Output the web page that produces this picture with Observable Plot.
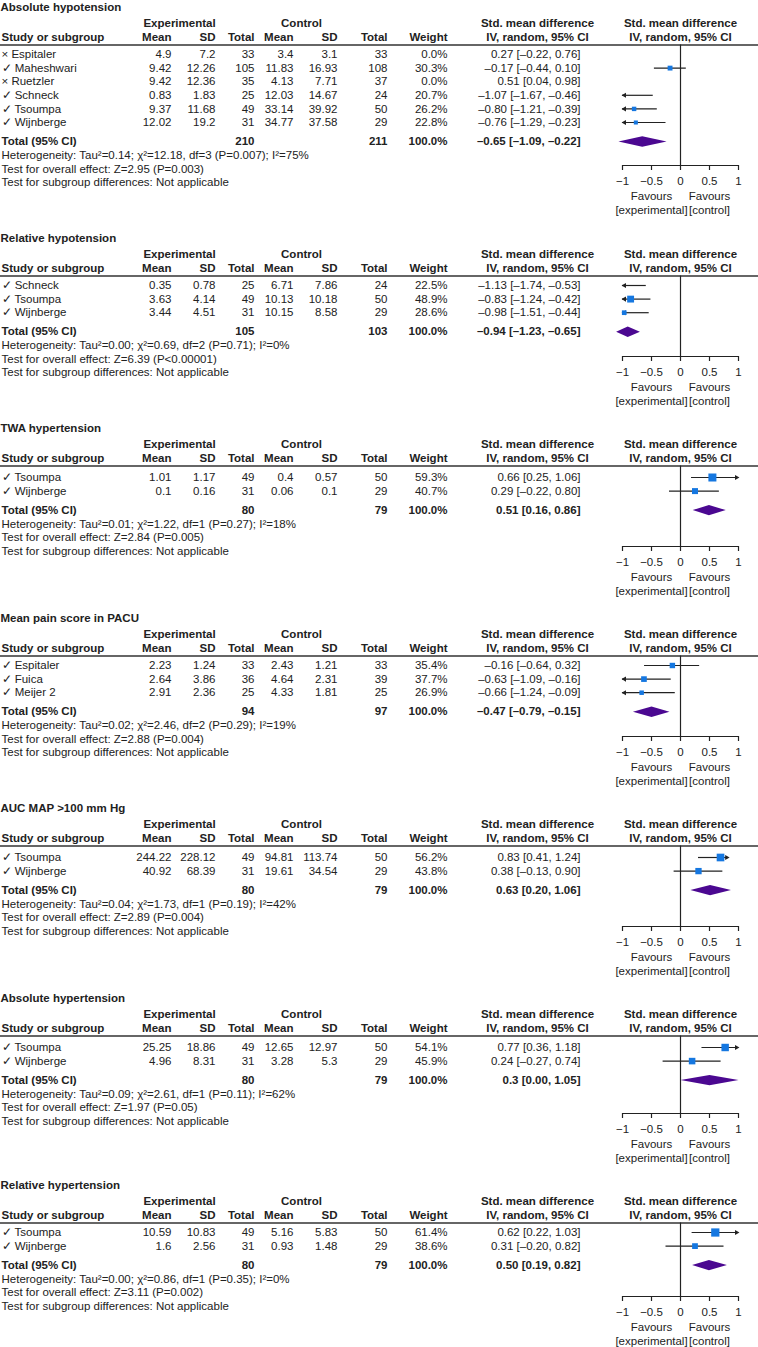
<!DOCTYPE html>
<html><head><meta charset="utf-8">
<script src="https://cdn.jsdelivr.net/npm/d3@7"></script>
<script src="https://cdn.jsdelivr.net/npm/@observablehq/plot@0.6"></script>
<style>
body{margin:0;background:#fff;}
#chart svg{display:block;}
</style></head><body><div id="chart"></div>
<script>
// ---------- DATA ----------
const outcomes = ["Absolute hypotension","Relative hypotension","TWA hypertension","Mean pain score in PACU","AUC MAP >100 mm Hg","Absolute hypertension","Relative hypertension"];
const studies = [
 ["× Espitaler","✓ Maheshwari","× Ruetzler","✓ Schneck","✓ Tsoumpa","✓ Wijnberge"],
 ["✓ Schneck","✓ Tsoumpa","✓ Wijnberge"],
 ["✓ Tsoumpa","✓ Wijnberge"],
 ["✓ Espitaler","✓ Fuica","✓ Meijer 2"],
 ["✓ Tsoumpa","✓ Wijnberge"],
 ["✓ Tsoumpa","✓ Wijnberge"],
 ["✓ Tsoumpa","✓ Wijnberge"]
];
const expMean = [[4.9,9.42,9.42,0.83,9.37,12.02],[0.35,3.63,3.44],[1.01,0.1],[2.23,2.64,2.91],[244.22,40.92],[25.25,4.96],[10.59,1.6]];
const expSD   = [[7.2,12.26,12.36,1.83,11.68,19.2],[0.78,4.14,4.51],[1.17,0.16],[1.24,3.86,2.36],[228.12,68.39],[18.86,8.31],[10.83,2.56]];
const expN    = [[33,105,35,25,49,31],[25,49,31],[49,31],[33,36,25],[49,31],[49,31],[49,31]];
const ctlMean = [[3.4,11.83,4.13,12.03,33.14,34.77],[6.71,10.13,10.15],[0.4,0.06],[2.43,4.64,4.33],[94.81,19.61],[12.65,3.28],[5.16,0.93]];
const ctlSD   = [[3.1,16.93,7.71,14.67,39.92,37.58],[7.86,10.18,8.58],[0.57,0.1],[1.21,2.31,1.81],[113.74,34.54],[12.97,5.3],[5.83,1.48]];
const ctlN    = [[33,108,37,24,50,29],[24,50,29],[50,29],[33,39,25],[50,29],[50,29],[50,29]];
const weights = [[0,30.3,0,20.7,26.2,22.8],[22.5,48.9,28.6],[59.3,40.7],[35.4,37.7,26.9],[56.2,43.8],[54.1,45.9],[61.4,38.6]];
// printed effect sizes (text columns)
const smd     = [[0.27,-0.17,0.51,-1.07,-0.80,-0.76],[-1.13,-0.83,-0.98],[0.66,0.29],[-0.16,-0.63,-0.66],[0.83,0.38],[0.77,0.24],[0.62,0.31]];
const ciLow   = [[-0.22,-0.44,0.04,-1.67,-1.21,-1.29],[-1.74,-1.24,-1.51],[0.25,-0.22],[-0.64,-1.09,-1.24],[0.41,-0.13],[0.36,-0.27],[0.22,-0.20]];
const ciHigh  = [[0.76,0.10,0.98,-0.46,-0.39,-0.23],[-0.53,-0.42,-0.44],[1.06,0.80],[0.32,-0.16,-0.09],[1.24,0.90],[1.18,0.74],[1.03,0.82]];
// plotted effect sizes as drawn in the forest plots
const plotEst  = [[0.27,-0.18,0.51,-1.07,-0.80,-0.77],[-1.13,-0.86,-0.97],[0.55,0.25],[-0.14,-0.63,-0.67],[0.69,0.31],[0.77,0.20],[0.60,0.25]];
const plotLow  = [[-0.22,-0.45,0.04,-1.67,-1.21,-1.29],[-1.74,-1.24,-1.51],[0.19,-0.19],[-0.62,-1.09,-1.24],[0.31,-0.11],[0.37,-0.30],[0.20,-0.25]];
const plotHigh = [[0.76,0.10,0.98,-0.47,-0.40,-0.25],[-0.59,-0.51,-0.54],[1.06,0.67],[0.33,-0.16,-0.09],[0.83,0.73],[1.18,0.70],[1.03,0.75]];
const totalExpN = [210,105,80,94,80,80,80];
const totalCtlN = [211,103,79,97,79,79,79];
const totalLabels = ["–0.65 [–1.09, –0.22]","–0.94 [–1.23, –0.65]","0.51 [0.16, 0.86]","–0.47 [–0.79, –0.15]","0.63 [0.20, 1.06]","0.3 [0.00, 1.05]","0.50 [0.19, 0.82]"];
const diamondMid  = [-0.66,-0.91,0.49,-0.50,0.51,0.50,0.49];
const diamondLow  = [-1.07,-1.11,0.21,-0.82,0.17,0.00,0.20];
const diamondHigh = [-0.24,-0.70,0.78,-0.19,0.87,1.00,0.80];
const heterogeneity = [
 "Heterogeneity: Tau²=0.14; χ²=12.18, df=3 (P=0.007); I²=75%",
 "Heterogeneity: Tau²=0.00; χ²=0.69, df=2 (P=0.71); I²=0%",
 "Heterogeneity: Tau²=0.01; χ²=1.22, df=1 (P=0.27); I²=18%",
 "Heterogeneity: Tau²=0.02; χ²=2.46, df=2 (P=0.29); I²=19%",
 "Heterogeneity: Tau²=0.04; χ²=1.73, df=1 (P=0.19); I²=42%",
 "Heterogeneity: Tau²=0.09; χ²=2.61, df=1 (P=0.11); I²=62%",
 "Heterogeneity: Tau²=0.00; χ²=0.86, df=1 (P=0.35); I²=0%"
];
const overallEffect = ["Z=2.95 (P=0.003)","Z=6.39 (P<0.00001)","Z=2.84 (P=0.005)","Z=2.88 (P=0.004)","Z=2.89 (P=0.004)","Z=1.97 (P=0.05)","Z=3.11 (P=0.002)"];
const axisTicks = [-1,-0.5,0,0.5,1];

// ---------- STYLE / LAYOUT ----------
const FONT = "'Liberation Sans', Arial, Helvetica, sans-serif";
const FS = 11.5;
const INK = "#222";
const BLUE = "#1577e0";
const PURPLE = "#4b0891";
const W = 758;
const axisMin = [125, 125, 125, 125, 125, 122, 118];
const fmt = v => (v < 0 ? "–" : "") + Math.abs(v).toFixed(2);
const tickFmt = v => (v < 0 ? "−" : "") + Math.abs(v);
const cols = [
  {key: "name", dx: 1,   anchor: "start"},
  {key: "em",   dx: 171, anchor: "end"},
  {key: "es",   dx: 215, anchor: "end"},
  {key: "en",   dx: 254, anchor: "end"},
  {key: "cm",   dx: 293, anchor: "end"},
  {key: "cs",   dx: 337, anchor: "end"},
  {key: "cn",   dx: 387, anchor: "end"},
  {key: "w",    dx: 447, anchor: "end"},
  {key: "smd",  dx: 580, anchor: "end"}
];
const headers = [
  {t: "Experimental", dx: 179, anchor: "middle", line: 0},
  {t: "Control", dx: 301, anchor: "middle", line: 0},
  {t: "Std. mean difference", dx: 537, anchor: "middle", line: 0},
  {t: "Std. mean difference", dx: 680, anchor: "middle", line: 0},
  {t: "Study or subgroup", dx: 1, anchor: "start", line: 1},
  {t: "Mean", dx: 171, anchor: "end", line: 1},
  {t: "SD", dx: 215, anchor: "end", line: 1},
  {t: "Total", dx: 254, anchor: "end", line: 1},
  {t: "Mean", dx: 293, anchor: "end", line: 1},
  {t: "SD", dx: 337, anchor: "end", line: 1},
  {t: "Total", dx: 387, anchor: "end", line: 1},
  {t: "Weight", dx: 447, anchor: "end", line: 1},
  {t: "IV, random, 95% CI", dx: 537, anchor: "middle", line: 1},
  {t: "IV, random, 95% CI", dx: 680, anchor: "middle", line: 1}
];

function panel(p, yOff) {
  const n = studies[p].length;
  const last = p === outcomes.length - 1;
  const L = {title: 7, hdr0: 22.5, hdr1: 36.5, rule: 44.5};
  L.first = L.rule + (n <= 2 && !last ? 11.5 : 9.5);
  const rows = d3.range(n).map(i => ({
    y: L.first + i * 13.6,
    name: studies[p][i], em: String(expMean[p][i]), es: String(expSD[p][i]), en: String(expN[p][i]),
    cm: String(ctlMean[p][i]), cs: String(ctlSD[p][i]), cn: String(ctlN[p][i]),
    w: weights[p][i].toFixed(1) + "%",
    smd: `${fmt(smd[p][i])} [${fmt(ciLow[p][i])}, ${fmt(ciHigh[p][i])}]`,
    est: plotEst[p][i], lo: plotLow[p][i], hi: plotHigh[p][i], wt: weights[p][i],
    arrowL: ciLow[p][i] < -1, arrowR: ciHigh[p][i] > 1
  }));
  L.total = rows[n - 1].y + 19;
  L.axis = Math.max(L.total + 24, axisMin[p]);
  const H = last ? 1347 - yOff : L.axis + 65 + (p === 0 ? 1 : 0);
  const total = [{y: L.total, name: "Total (95% CI)", en: String(totalExpN[p]), cn: String(totalCtlN[p]), w: "100.0%", smd: totalLabels[p]}];
  const stats = [
    {y: L.total + 14, t: heterogeneity[p]},
    {y: L.total + 27.5, t: "Test for overall effect: " + overallEffect[p]},
    {y: L.total + 41, t: "Test for subgroup differences: Not applicable"}
  ];
  const drawn = rows.filter(d => d.wt > 0);
  const clampX = v => Math.max(-1, Math.min(1, v));
  const yc = L.total, hh = 5.2;
  const diamond = [
    {x: diamondLow[p], y: yc}, {x: diamondMid[p], y: yc - hh},
    {x: diamondHigh[p], y: yc}, {x: diamondMid[p], y: yc + hh}
  ];
  const font = {fontFamily: FONT, fontSize: FS, fill: INK};
  const tx = (data, o) => Plot.text(data, {frameAnchor: "left", lineAnchor: "middle", ...font, ...o});
  const marks = [
    tx([outcomes[p]], {y: L.title, text: d => d, fontWeight: "bold"}),
    ...headers.map(h => tx([h], {y: h.line ? L.hdr1 : L.hdr0, text: "t", dx: h.dx, textAnchor: h.anchor, fontWeight: "bold"})),
    Plot.ruleY([L.rule], {stroke: "#666", strokeWidth: 2}),
    ...cols.map(c => tx(rows, {y: "y", text: c.key, dx: c.dx, textAnchor: c.anchor})),
    ...cols.filter(c => ["name","en","cn","w","smd"].includes(c.key)).map(c => tx(total, {y: "y", text: c.key, dx: c.dx, textAnchor: c.anchor, fontWeight: "bold"})),
    tx(stats, {y: "y", text: "t", dx: 1, textAnchor: "start"}),
    // forest
    Plot.ruleX([0], {y1: L.rule, y2: L.axis, stroke: INK, strokeWidth: 1.2}),
    Plot.ruleY(drawn, {y: "y", x1: d => clampX(d.lo), x2: d => clampX(d.hi), stroke: INK, strokeWidth: 1.2}),
    Plot.dot(drawn.filter(d => d.arrowL), {x: d => clampX(d.lo), y: "y", symbol: "triangle", rotate: -90, r: 1.9, dx: 2, fill: INK, stroke: "none"}),
    Plot.dot(drawn.filter(d => d.arrowR), {x: d => clampX(d.hi), y: "y", symbol: "triangle", rotate: 90, r: 1.9, dx: -2, fill: INK, stroke: "none"}),
    Plot.dot(drawn.filter(d => d.est >= -1 && d.est <= 1), {x: "est", y: "y", r: "wt", symbol: "square", fill: BLUE, stroke: "none"}),
    Plot.line(diamond, {x: "x", y: "y", fill: PURPLE, stroke: "none"}),
    Plot.ruleY([L.axis], {x1: -1, x2: 1, stroke: INK, strokeWidth: 1.2}),
    Plot.axisX({ticks: axisTicks, tickFormat: tickFmt, tickSize: 5, tickPadding: 6, anchor: "bottom", fill: INK, stroke: INK, strokeWidth: 1.2, fontSize: FS, fontFamily: FONT}),
    Plot.text([{x: -0.5, t: "Favours"}, {x: 0.5, t: "Favours"}], {x: "x", y: L.axis + 31, text: "t", ...font}),
    Plot.text([{x: -0.5, t: "[experimental]"}, {x: 0.5, t: "[control]"}], {x: "x", y: L.axis + 45, text: "t", ...font})
  ];
  const svg = Plot.plot({
    width: W, height: H,
    marginTop: 0, marginLeft: 0, marginRight: 0, marginBottom: H - L.axis,
    style: {fontFamily: FONT, fontSize: FS + "px", color: INK, background: "#fff", overflow: "visible"},
    x: {domain: [-1, 1], range: [622, 738], axis: null},
    y: {type: "identity", axis: null},
    r: {type: "linear", domain: [0, 100], range: [0.9, 7]},
    marks
  });
  return {svg, H};
}

const chart = document.getElementById("chart");
let yOffset = 0;
outcomes.forEach((_, p) => {
  const res = panel(p, yOffset);
  chart.appendChild(res.svg);
  yOffset += res.H;
});
</script></body></html>
